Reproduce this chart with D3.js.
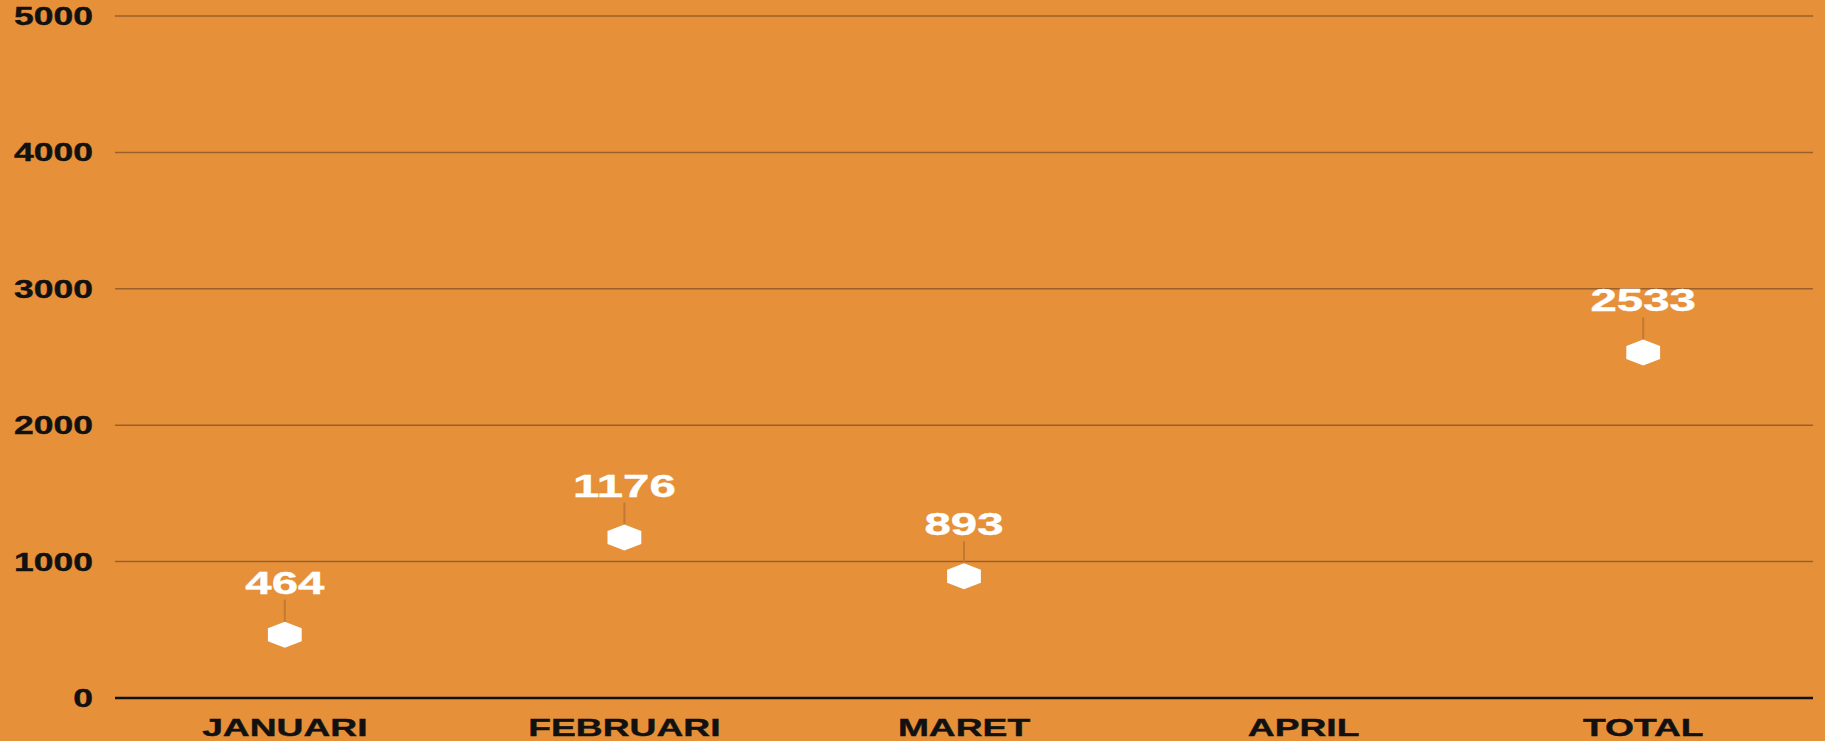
<!DOCTYPE html>
<html>
<head>
<meta charset="utf-8">
<script src="https://cdn.jsdelivr.net/npm/d3@7"></script>
<style>
  html, body { margin: 0; padding: 0; background: #e69039; }
  svg { display: block; }
  text { font-family: "Liberation Sans", Arial, sans-serif; font-weight: bold; }
</style>
</head>
<body>
<svg id="chart" width="1825" height="741"></svg>
<script>
const categories = ["JANUARI", "FEBRUARI", "MARET", "APRIL", "TOTAL"];
const values = [464, 1176, 893, null, 2533];
const yTicks = [0, 1000, 2000, 3000, 4000, 5000];

const W = 1825, H = 741;
const plotLeft = 115, plotRight = 1813, plotTop = 16, plotBottom = 698;

const svg = d3.select('#chart');
svg.append('rect').attr('width', W).attr('height', H).attr('fill', '#e69039');

const x = d3.scaleBand().domain(categories).range([plotLeft, plotRight]);
const y = d3.scaleLinear().domain([0, 5000]).range([plotBottom, plotTop]);

// grid lines
svg.append('g').selectAll('line').data(yTicks).join('line')
  .attr('x1', plotLeft).attr('x2', plotRight)
  .attr('y1', d => y(d)).attr('y2', d => y(d))
  .attr('stroke', d => d === 0 ? '#111' : '#9a5f2a')
  .attr('stroke-width', d => d === 0 ? 2.5 : 1.5);

// y labels
svg.append('g').selectAll('text').data(yTicks).join('text')
  .attr('transform', d => `translate(93,${y(d)}) scale(1.42,1)`)
  .attr('text-anchor', 'end')
  .attr('dy', '0.36em')
  .attr('font-size', 25)
  .attr('fill', '#111')
  .attr('stroke', '#111').attr('stroke-width', 0.4)
  .text(d => d);

// x labels
svg.append('g').selectAll('text').data(categories).join('text')
  .attr('transform', d => `translate(${x(d) + x.bandwidth() / 2},736) scale(1.55,1)`)
  .attr('text-anchor', 'middle')
  .attr('font-size', 24)
  .attr('fill', '#111')
  .attr('stroke', '#111').attr('stroke-width', 0.4)
  .text(d => d);

const pts = categories.map((c, i) => ({ c, v: values[i] })).filter(d => d.v != null);

const hex = d3.line()(d3.range(6).map(k => {
  const a = Math.PI / 2 + k * Math.PI / 3;
  return [13 * Math.cos(a), 13 * Math.sin(a)];
})) + 'Z';

const g = svg.append('g').selectAll('g').data(pts).join('g')
  .attr('transform', d => `translate(${x(d.c) + x.bandwidth() / 2},${y(d.v)})`);

g.append('line')
  .attr('y1', -35).attr('y2', -13)
  .attr('stroke', '#c27a33').attr('stroke-width', 2);

g.append('path')
  .attr('d', hex)
  .attr('transform', 'scale(1.5,1)')
  .attr('fill', '#fff');

g.append('text')
  .attr('transform', 'translate(0,-41) scale(1.48,1)')
  .attr('text-anchor', 'middle')
  .attr('font-size', 32)
  .attr('fill', '#fff')
  .attr('stroke', '#fff').attr('stroke-width', 0.4)
  .text(d => d.v);
</script>
</body>
</html>
